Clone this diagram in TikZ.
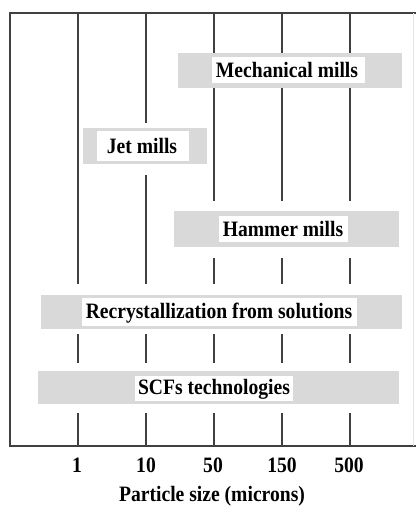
\documentclass[tikz,border=0pt]{standalone}
\usepackage{graphicx}
\usepackage{fontspec}
\setmainfont{Liberation Serif}
\newcommand{\tallt}[1]{\scalebox{1}[1.12]{\bfseries\fontsize{19.6}{22}\selectfont #1}}
\begin{document}
\begin{tikzpicture}[x=1pt,y=-1pt,
  grid/.style={draw=black!75,line width=1.3pt},
  frame/.style={draw=black!75,line width=1.6pt},
  bar/.style={fill=black!15,draw=none},
  lab/.style={inner sep=0pt,anchor=base},
  num/.style={inner sep=0pt,anchor=base}]
\useasboundingbox (0,0) rectangle (416,506);
% frame
\draw[frame] (416,13) -- (10,13) -- (10,446) -- (416,446);
\draw[draw=black!10,line width=0.8pt] (413,13) -- (413,446);
% vertical lines
\foreach \x in {78} \draw[grid] (\x,13) -- (\x,284);
\draw[grid] (146,13) -- (146,123);
\draw[grid] (146,175) -- (146,284);
\foreach \x in {214,282,350} {
  \draw[grid] (\x,13) -- (\x,53);
  \draw[grid] (\x,88) -- (\x,201);
  \draw[grid] (\x,258) -- (\x,284);
}
\foreach \x in {78,146,214,282,350} {
  \draw[grid] (\x,334) -- (\x,363);
  \draw[grid] (\x,413) -- (\x,446);
}
% bars
\fill[bar] (178,53) rectangle (402,88);
\fill[white] (212,57) rectangle (365,83);
\node[lab] (mech) at (287,77) {\tallt{Mechanical mills}};
\fill[bar] (83,128) rectangle (207,164);
\fill[white] (97,131) rectangle (189,161);
\node[lab] (jet) at (142,153) {\tallt{Jet mills}};
\fill[bar] (174,211) rectangle (399,247);
\fill[white] (219,216) rectangle (348,242);
\node[lab] (ham) at (283,236) {\tallt{Hammer mills}};
\fill[bar] (41,295) rectangle (402,329);
\fill[white] (82,298) rectangle (357,326);
\node[lab] (rec) at (219,318) {\tallt{Recrystallization from solutions}};
\fill[bar] (38,371) rectangle (399,404);
\fill[white] (135,376) rectangle (293,401);
\node[lab] (scf) at (214,394) {\tallt{SCFs technologies}};
% axis numbers
\node[num] (n1) at (77,472) {\tallt{1}};
\node[num] (n10) at (146,472) {\tallt{10}};
\node[num] (n50) at (213,472) {\tallt{50}};
\node[num] (n150) at (282,472) {\tallt{150}};
\node[num] (n500) at (349,472) {\tallt{500}};
\node[num] (axl) at (212,501) {\tallt{Particle size (microns)}};
\end{tikzpicture}
\end{document}
